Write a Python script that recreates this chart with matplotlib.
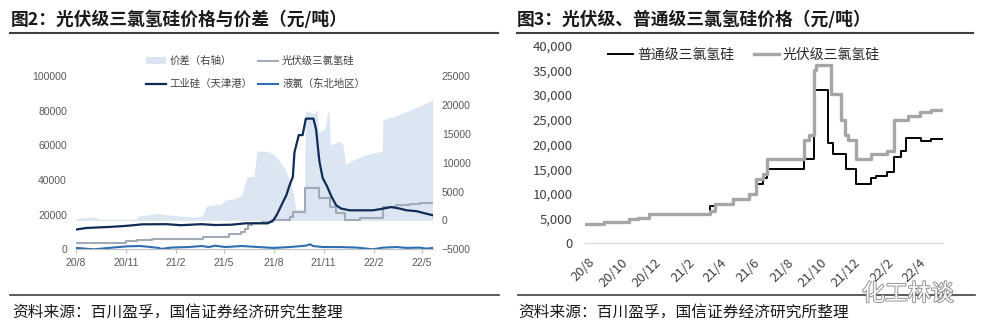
import matplotlib
matplotlib.use('Agg')
import matplotlib.pyplot as plt
import matplotlib.patheffects as pe
from matplotlib.patches import Patch
from matplotlib.lines import Line2D
from matplotlib.ticker import FuncFormatter
import pandas as pd

plt.rcParams['font.family'] = ['Noto Sans CJK SC', 'DejaVu Sans']

# ---------------- Left chart data (图2) ----------------
spread_dates = ['2020-08-01', '2020-09-05', '2020-09-14', '2020-11-21', '2020-11-24',
                '2020-12-29', '2021-01-23', '2021-03-07', '2021-03-21', '2021-03-30',
                '2021-04-27', '2021-05-03', '2021-05-21', '2021-06-03', '2021-06-12',
                '2021-06-25', '2021-07-01', '2021-07-19', '2021-08-02', '2021-08-21',
                '2021-09-02', '2021-09-08', '2021-09-11', '2021-09-26', '2021-09-28',
                '2021-10-15', '2021-10-20', '2021-10-22', '2021-11-04', '2021-11-08',
                '2021-11-11', '2021-11-13', '2021-12-01', '2021-12-07', '2021-12-11',
                '2021-12-26', '2022-01-19', '2022-02-17', '2022-02-18', '2022-03-15',
                '2022-04-03', '2022-04-27', '2022-05-21']
spread_vals = [350, 600, 200, 200, 750,
               1200, 900, 600, 700, 2500,
               2900, 3500, 3800, 4400, 7600,
               7600, 12000, 12000, 11400, 9000,
               6400, 3500, 1800, 2000, 19000,
               18500, 19300, 15200, 16000, 18900,
               18500, 13100, 13700, 13000, 9700,
               10500, 11400, 12000, 17500, 18100,
               18900, 19800, 20900]

si_dates = ['2020-08-01', '2020-08-20', '2020-10-01', '2020-11-01', '2020-12-01',
            '2021-01-15', '2021-02-10', '2021-03-20', '2021-04-15', '2021-05-15',
            '2021-06-10', '2021-07-21', '2021-07-31', '2021-08-06', '2021-08-12',
            '2021-08-18', '2021-08-24', '2021-08-30', '2021-09-05', '2021-09-08',
            '2021-09-16', '2021-09-23', '2021-09-29', '2021-10-13', '2021-10-18',
            '2021-10-21', '2021-10-24', '2021-10-30', '2021-11-07', '2021-11-15',
            '2021-11-24', '2021-12-03', '2021-12-19', '2022-01-31', '2022-02-19',
            '2022-03-06', '2022-03-21', '2022-04-03', '2022-04-21', '2022-05-06',
            '2022-05-21']
si_vals = [11400, 12300, 12900, 13500, 14400,
           14500, 13900, 14500, 14000, 14200,
           15000, 15000, 16800, 19650, 23500,
           27400, 31200, 37000, 41800, 56000,
           65900, 65900, 75400, 75400, 69000,
           59500, 50800, 41200, 36400, 30600,
           25400, 23500, 22500, 22500, 23500,
           24400, 23500, 22500, 22000, 20800,
           19650]

pv_dates = ['2020-08-01', '2020-11-02', '2020-11-21', '2020-12-20', '2021-03-23',
            '2021-05-10', '2021-06-02', '2021-06-09', '2021-06-15', '2021-06-22',
            '2021-07-10', '2021-07-31', '2021-08-30', '2021-09-05', '2021-09-27',
            '2021-10-24', '2021-11-12', '2021-11-24', '2021-12-10', '2022-01-06',
            '2022-02-18', '2022-03-15', '2022-04-09', '2022-04-27', '2022-05-21']
pv_vals = [3700, 4600, 5600, 6000, 7100,
           8700, 10000, 12000, 13900, 15200,
           16000, 16800, 18700, 21600, 35500,
           29700, 24500, 20800, 16800, 17800,
           24500, 25400, 26000, 26600, 26800]

cl_dates = ['2020-08-01', '2020-09-03', '2020-10-08', '2020-11-03', '2020-11-28',
            '2021-01-01', '2021-01-05', '2021-01-24', '2021-02-24', '2021-03-21',
            '2021-04-03', '2021-04-15', '2021-05-03', '2021-06-03', '2021-07-04',
            '2021-07-31', '2021-08-30', '2021-09-29', '2021-10-07', '2021-10-12',
            '2021-10-30', '2021-12-01', '2022-01-01', '2022-01-31', '2022-02-19',
            '2022-03-15', '2022-04-03', '2022-04-27', '2022-05-09', '2022-05-21']
cl_vals = [800, 0, 1000, 1700, 1900,
           800, 200, 1000, 1300, 1900,
           1300, 2100, 1300, 1900, 1300,
           800, 1300, 2100, 2900, 1900,
           1300, 1300, 1000, 0, 1000,
           1300, 800, 1000, 400, 800]

left_tick_dates = ['2020-08-01', '2020-11-01', '2021-02-01', '2021-05-01',
                   '2021-08-01', '2021-11-01', '2022-02-01', '2022-05-01']
left_tick_labels = ['20/8', '20/11', '21/2', '21/5', '21/8', '21/11', '22/2', '22/5']

# ---------------- Right chart data (图3) ----------------
gen_dates = ['2020-07-27', '2020-08-30', '2020-10-15', '2020-11-01', '2020-11-21',
             '2021-03-13', '2021-03-22', '2021-04-25', '2021-05-24', '2021-06-06',
             '2021-06-19', '2021-06-26', '2021-09-01', '2021-09-19', '2021-09-22',
             '2021-10-16', '2021-10-25', '2021-11-17', '2021-12-05', '2022-01-02',
             '2022-01-11', '2022-02-01', '2022-02-14', '2022-02-26', '2022-03-07',
             '2022-04-04', '2022-04-22', '2022-05-14']
gen_vals = [3900, 4300, 4850, 5200, 6000,
            7600, 7900, 8900, 10000, 12000,
            13200, 15000, 17000, 26000, 31000,
            20300, 18000, 15000, 12000, 13200,
            13700, 14400, 17500, 18600, 21400,
            20600, 21100, 21100]

pvr_dates = ['2020-07-27', '2020-08-30', '2020-10-15', '2020-11-01', '2020-11-21',
             '2021-03-13', '2021-03-22', '2021-04-25', '2021-05-24', '2021-06-06',
             '2021-06-19', '2021-06-26', '2021-09-01', '2021-09-10', '2021-09-19',
             '2021-09-23', '2021-10-20', '2021-11-08', '2021-11-15', '2021-11-21',
             '2021-12-05', '2022-01-02', '2022-02-01', '2022-02-14', '2022-03-11',
             '2022-04-02', '2022-04-22', '2022-05-14']
pvr_vals = [3900, 4400, 4850, 5200, 6000,
            6500, 7900, 8900, 10000, 13000,
            14000, 17000, 21000, 22000, 35000,
            36000, 30200, 25000, 22000, 21000,
            17000, 18000, 18600, 25000, 25700,
            26500, 27000, 27000]

right_tick_dates = ['2020-08-01', '2020-10-01', '2020-12-01', '2021-02-01', '2021-04-01',
                    '2021-06-01', '2021-08-01', '2021-10-01', '2021-12-01', '2022-02-01',
                    '2022-04-01']
right_tick_labels = ['20/8', '20/10', '20/12', '21/2', '21/4', '21/6', '21/8',
                     '21/10', '21/12', '22/2', '22/4']

# ---------------- figure ----------------
W, H = 986, 336
fig = plt.figure(figsize=(W / 100, H / 100), dpi=100)


def fx(px):
    return px / W


def fy(py):
    return 1 - py / H


D = pd.to_datetime
C_AREA = '#dbe6f2'
C_NAVY = '#0f2b56'
C_GRAY = '#a2aab7'
C_BLUE = '#2f6eb2'
TICK_C = '#595959'

# ---- left chart ----
axA = fig.add_axes([fx(76), fy(249.3), (432.7 - 76) / W, (249.3 - 76) / H])
axL = axA.twinx()
axA.yaxis.tick_right()
axL.yaxis.tick_left()

axA.fill_between(D(spread_dates), 0, spread_vals, color=C_AREA, lw=0)
axA.set_ylim(-5000, 25000)
axA.set_yticks(range(-5000, 25001, 5000))

axL.plot(D(pv_dates), pv_vals, color=C_GRAY, lw=1.5, drawstyle='steps-post')
axL.plot(D(cl_dates), cl_vals, color=C_BLUE, lw=1.5)
axL.plot(D(si_dates), si_vals, color=C_NAVY, lw=1.6)
axL.set_ylim(0, 100000)
axL.set_yticks(range(0, 100001, 20000))

axA.set_xlim(D('2020-08-01'), D('2022-05-21'))
axA.set_xticks(D(left_tick_dates))
axA.set_xticklabels(left_tick_labels)

for ax in (axA, axL):
    for s in ax.spines.values():
        s.set_visible(False)
axA.spines['bottom'].set_visible(True)
axA.spines['bottom'].set_color('#bfbfbf')
axA.tick_params(axis='x', length=3, color='#bfbfbf', pad=3, labelsize=7.5,
                labelcolor=TICK_C, labelfontfamily='Liberation Sans')
axA.tick_params(axis='y', length=0, pad=6.5, labelsize=7.5,
                labelcolor=TICK_C, labelfontfamily='Liberation Sans')
axL.tick_params(axis='y', length=0, pad=6.5, labelsize=7.5,
                labelcolor=TICK_C, labelfontfamily='Liberation Sans')

left_handles = [Patch(fc=C_AREA, ec='none', label='价差（右轴）'),
                Line2D([], [], color=C_NAVY, lw=1.6, label='工业硅（天津港）'),
                Line2D([], [], color=C_GRAY, lw=1.5, label='光伏级三氯氢硅'),
                Line2D([], [], color=C_BLUE, lw=1.5, label='液氯（东北地区）')]
fig.legend(handles=left_handles, ncol=2, loc='upper left',
           bbox_to_anchor=(fx(146), fy(56)), frameon=False, fontsize=7.5,
           handlelength=1.9, handleheight=0.65, handletextpad=0.4,
           columnspacing=0.5, labelspacing=1.25, borderpad=0, borderaxespad=0,
           labelcolor='#404040')

# ---- right chart ----
axR = fig.add_axes([fx(585), fy(243.3), 358 / W, (243.3 - 45.6) / H])
axR.plot(D(gen_dates), gen_vals, color='#000000', lw=1.4, drawstyle='steps-post',
         label='普通级三氯氢硅')
axR.plot(D(pvr_dates), pvr_vals, color='#a6a6a6', lw=2.4, drawstyle='steps-post',
         label='光伏级三氯氢硅')
axR.set_xlim(D('2020-07-27'), D('2022-05-14'))
axR.set_ylim(0, 40000)
axR.set_yticks(range(0, 40001, 5000))
axR.yaxis.set_major_formatter(FuncFormatter(lambda v, p: f'{int(v):,}'))
axR.set_xticks(D(right_tick_dates))
axR.set_xticklabels(right_tick_labels, rotation=45, ha='right', va='top',
                    rotation_mode='anchor')
for s in axR.spines.values():
    s.set_visible(False)
axR.spines['bottom'].set_visible(True)
axR.spines['bottom'].set_color('#d9d9d9')
axR.tick_params(axis='both', length=0, labelsize=9.5, labelcolor='#404040')
axR.tick_params(axis='y', pad=9)
axR.tick_params(axis='x', pad=9)
axR.legend(ncol=2, loc='upper left', bbox_to_anchor=(fx(608), fy(48)),
           bbox_transform=fig.transFigure, frameon=False, fontsize=10,
           handlelength=1.8, handletextpad=0.3, columnspacing=1.4,
           borderpad=0, borderaxespad=0, labelcolor='#262626')

# ---- titles, rules, sources ----
fig.text(fx(11), fy(20), '图2：光伏级三氯氢硅价格与价差（元/吨）', fontsize=12.8,
         fontweight='bold', va='center', ha='left', color='#1a1a1a')
fig.text(fx(517), fy(20), '图3：光伏级、普通级三氯氢硅价格（元/吨）', fontsize=12.8,
         fontweight='bold', va='center', ha='left', color='#1a1a1a')
for x0, x1 in ((10, 498), (517, 973)):
    fig.add_artist(Line2D([fx(x0), fx(x1)], [fy(33.3)] * 2, color='#404040', lw=1.5))
for x0, x1 in ((10, 499), (518, 975)):
    fig.add_artist(Line2D([fx(x0), fx(x1)], [fy(295.3)] * 2, color='#404040', lw=1.2))
fig.text(fx(12), fy(312.7), '资料来源：百川盈孚，国信证券经济研究生整理', fontsize=11.3,
         va='center', ha='left', color='#1a1a1a')
fig.text(fx(518), fy(312.7), '资料来源：百川盈孚，国信证券经济研究所整理', fontsize=11.3,
         va='center', ha='left', color='#1a1a1a')
fig.text(fx(862), fy(294), '化工林谈', fontsize=16.5, va='center', ha='left',
         color='white', path_effects=[pe.withStroke(linewidth=1.3, foreground='#8c8c8c')])

fig.savefig('out.png', dpi=100)
